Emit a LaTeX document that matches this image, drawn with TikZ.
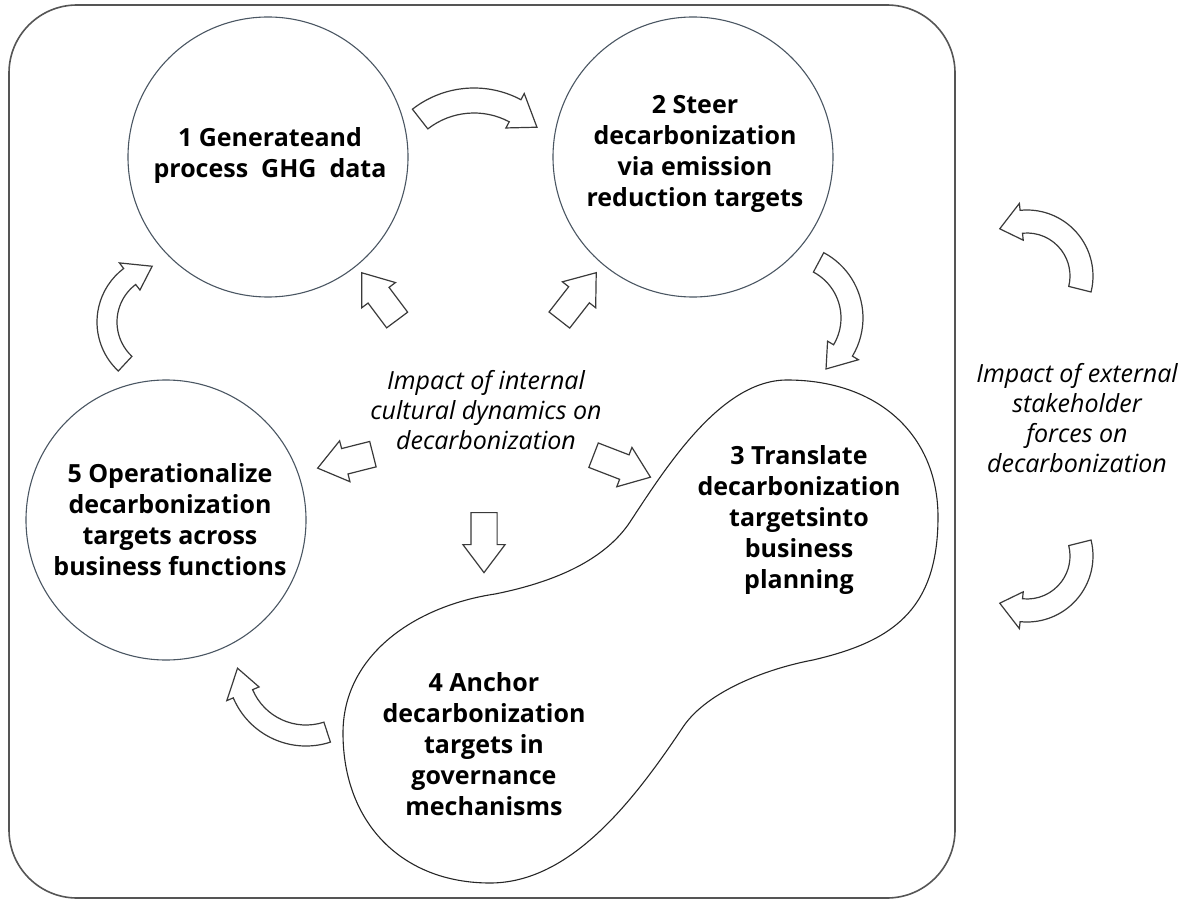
\documentclass[tikz,border=0pt]{standalone}
\usepackage{fontspec}
\setmainfont{Open Sans}
\usetikzlibrary{shapes.arrows,calc}
\definecolor{circ}{HTML}{4A5662}
\definecolor{arr}{HTML}{3A3A3A}
\definecolor{frame}{HTML}{555555}
\tikzset{
  frameline/.style={draw=frame, line width=1.6pt, rounded corners=68pt},
  stage/.style={circle, draw=circ, line width=1.1pt, minimum size=280pt, inner sep=0pt},
  blobline/.style={draw=black!85, line width=1.1pt},
  lbl/.style={font=\bfseries\fontsize{25}{31}\selectfont, align=center, inner sep=0pt},
  itl/.style={font=\itshape\fontsize{25}{30}\selectfont, align=center, inner sep=0pt},
  barrow/.style={single arrow, draw=arr, fill=white, line width=1.2pt,
     inner xsep=0pt, inner ysep=12.5pt,
     single arrow head extend=8pt, single arrow tip angle=74, single arrow head indent=0pt,
     anchor=tail},
  carrow/.style={draw=arr, fill=white, line width=1.2pt, line join=miter}
}
% #1 centre, #2 inner r, #3 outer r, #4 tail angle, #5 head base angle, #6 tip angle, #7 head extend
\newcommand{\curvedarrow}[7]{%
  \draw[carrow] ($(#1)+(#4:#3)$) arc[start angle=#4, end angle=#5, radius=#3]
    -- ($(#1)+(#5:{#3+#7})$) -- ($(#1)+(#6:{(#2+#3)/2})$) -- ($(#1)+(#5:{#2-#7})$)
    -- ($(#1)+(#5:#2)$) arc[start angle=#5, end angle=#4, radius=#2] -- cycle;}
\begin{document}
\begin{tikzpicture}[x=1pt,y=-1pt]
\useasboundingbox (0,0) rectangle (1189,904);
\draw[frameline] (9,5) rectangle (955,898);

% stages
\node[stage] (c1) at (268,157) {};
\node[stage] (c2) at (693,157) {};
\node[stage] (c5) at (166,520) {};
\draw[blobline] (787,380) .. controls (878,380) and (938,435) .. (938,517)
  .. controls (938,612) and (890,642) .. (813,660)
  .. controls (770,668) and (708,690) .. (683,727)
  .. controls (633,802) and (570,883) .. (490,883)
  .. controls (402,883) and (343,823) .. (343,733)
  .. controls (343,655) and (415,606) .. (495,594)
  .. controls (565,580) and (608,555) .. (630,522)
  .. controls (668,464) and (722,380) .. (787,380) -- cycle;

\node[lbl] (t1) at (270,156) {1 Generateand\\process\ \ GHG\ \ data};
\node[lbl] (t2) at (695,154) {2 Steer\\decarbonization\\via emission\\reduction targets};
\node[lbl] (t3) at (799,520) {3 Translate\\decarbonization\\targetsinto\\business\\planning};
\node[lbl] (t4) at (484,744) {4 Anchor\\decarbonization\\targets in\\governance\\mechanisms};
\node[lbl] (t5) at (170,520) {5 Operationalize\\decarbonization\\targets across\\business functions};

\node[itl] (ti) at (486,410) {Impact of internal\\cultural dynamics on\\decarbonization};
\node[itl] (te) at (1077,418) {Impact of external\\stakeholder\\forces on\\decarbonization};

% straight block arrows from the centre
\node[barrow, rotate=126.8, minimum height=59pt] (s1) at (397.5,320.5) {};
\node[barrow, rotate=52.1, minimum height=60pt] (s2) at (559,320.5) {};
\node[barrow, rotate=194.2, minimum height=57pt] (s3) at (373.5,454) {};
\node[barrow, rotate=-21.1, minimum height=61pt] (s4) at (593,455) {};
\node[barrow, rotate=-90, minimum height=60pt] (s5) at (484,512) {};

% curved block arrows
\coordinate (ca) at (474,188);
\coordinate (cb) at (789,318);
\coordinate (cc) at (306,667);
\coordinate (cd) at (164,322);
\coordinate (ce) at (1027,276);
\coordinate (cf) at (1027,556);
\curvedarrow{ca}{75}{100}{-128}{-62}{-44}{7}
\curvedarrow{cb}{52}{74}{-62}{31}{54}{7}
\curvedarrow{cc}{58}{79}{72}{157}{179}{7}
\curvedarrow{cd}{47}{67}{133}{233}{258}{7}
\curvedarrow{ce}{43}{66}{14}{-96}{-120}{7}
\curvedarrow{cf}{43}{66}{-14}{96}{120}{7}
\end{tikzpicture}
\end{document}
